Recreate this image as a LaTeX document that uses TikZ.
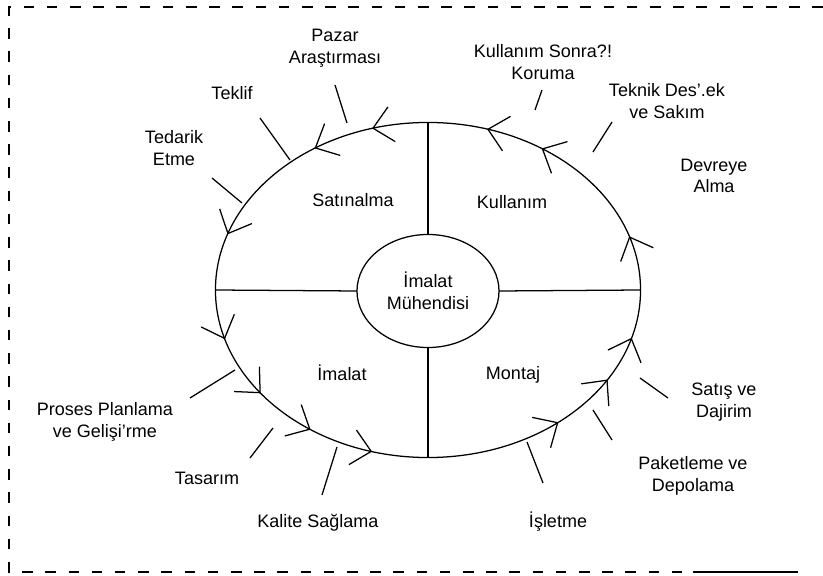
\documentclass[tikz,border=0pt]{standalone}
\usepackage{fontspec}
\setmainfont{Liberation Sans}
\usetikzlibrary{shapes.geometric}
\tikzstyle{activity}=[align=center,font=\fontsize{12.8}{15.5}\selectfont]
\tikzstyle{ring}=[draw,ellipse,inner sep=0pt,outer sep=0pt]
\tikzstyle{frame}=[dash pattern=on 7.5pt off 9pt]

\begin{document}
\begin{tikzpicture}[x=0.025cm, y=-0.025cm, line width=0.9pt]
\useasboundingbox (0,0) rectangle (823,576);
% dashed frame
\draw[frame] (823,7) -- (9,7) -- (9,572) -- (808,572);
\draw[line width=1.6pt] (693,572) -- (788,572);
% the cycle and the engineer
\node[ring,minimum width=10.625cm,minimum height=8.375cm] (cycle) at (428,290) {};
\node[ring,activity,minimum width=3.55cm,minimum height=2.825cm] (eng) at (428,291) {İmalat\\Mühendisi};
\foreach \side in {north,south,east,west}
  \draw (eng.\side) -- (cycle.\side);
\foreach \place/\name/\txt in {{(353,200)/buy/Satınalma},
                               {(512,202)/use/Kullanım},
                               {(342,373)/make/İmalat},
                               {(513,375)/assembly/Montaj}}
  \node[activity] (\name) at \place {\txt};
% activities round the cycle
\foreach \place/\name/\txt in {{(335,48)/market/Pazar\\Araştırması},
                               {(232,93)/offer/Teklif},
                               {(174,148)/supply/Tedarik\\Etme},
                               {(105,422)/process/Proses Planlama\\ve Gelişi'rme},
                               {(207,478)/design/Tasarım},
                               {(318,523)/quality/Kalite Sağlama},
                               {(558,522)/operate/İşletme},
                               {(693,476)/pack/Paketleme ve\\Depolama},
                               {(724,402)/sales/Satış ve\\Dajirim},
                               {(714,176)/startup/Devreye\\Alma},
                               {(667,101)/support/Teknik Des'.ek\\ve Sakım},
                               {(543,62)/afteruse/Kullanım Sonra?!\\Koruma}}
  \node[activity] (\name) at \place {\txt};
% leaders
\foreach \name/\from/\to in {{market/(335,85)/(347,123)},
                             {offer/(260,118)/(290,160)},
                             {supply/(212,178)/(242,203)},
                             {process/(190,398)/(235,370)},
                             {design/(250,458)/(273,428)},
                             {quality/(322,495)/(337,447)},
                             {operate/(543,483)/(527,442)},
                             {pack/(612,440)/(593,410)},
                             {sales/(668,398)/(640,378)},
                             {support/(612,122)/(593,152)},
                             {afteruse/(542,90)/(535,110)}}
  \draw \from coordinate (\name-start) -- \to coordinate (\name-end);
% arrowheads, counter-clockwise
\foreach \ang in {302.6,286.4,255,238,199.7,163.2,142.2,123.8,105.5,52.4,32.6,16.9,341.6}{
  \pgfmathsetmacro\back{atan2(167.5*cos(\ang),-212.5*sin(\ang))}
  \path (428,290) ++(\ang:212.5 and 167.5) coordinate (tip);
  \draw ([shift={(\back+43:26)}]tip) -- (tip) -- ([shift={(\back-43:26)}]tip);
}
\end{tikzpicture}
\end{document}
